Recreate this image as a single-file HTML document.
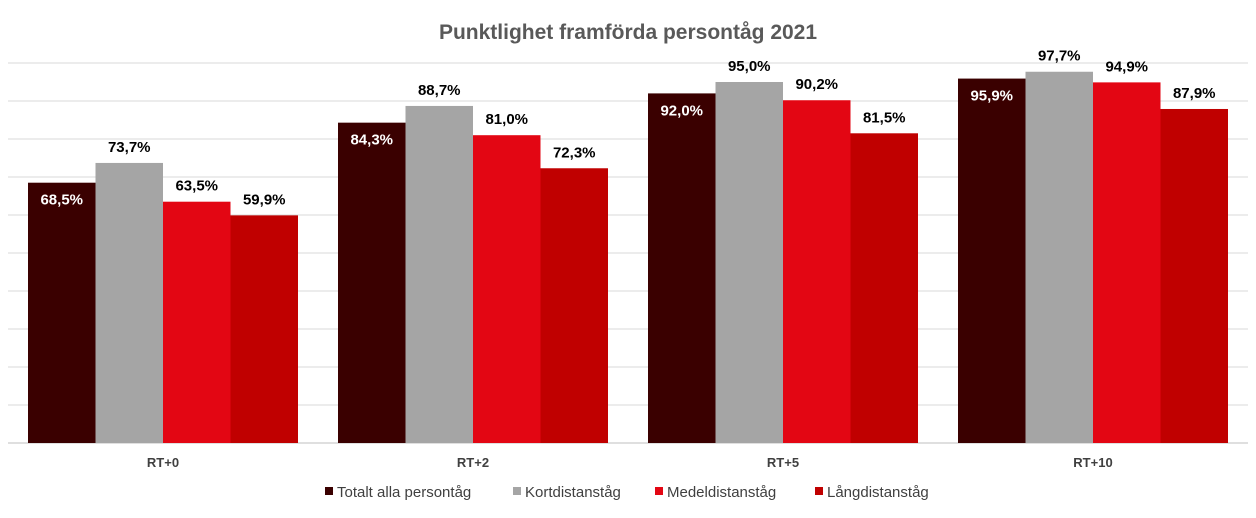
<!DOCTYPE html>
<html><head><meta charset="utf-8"><style>
body{margin:0;background:#fff;}
svg{display:block;font-family:"Liberation Sans",sans-serif;}
</style></head><body>
<svg id="chart" width="1256" height="518">
<text x="628" y="39" text-anchor="middle" font-size="21" font-weight="bold" fill="#595959">Punktlighet framförda persontåg 2021</text>
<g id="grid"></g>
<g id="bars"></g>
<g id="cats"></g>
<g id="legend"></g>
</svg>
<script>
const categories = ["RT+0","RT+2","RT+5","RT+10"];
const seriesNames = ["Totalt alla persontåg","Kortdistanståg","Medeldistanståg","Långdistanståg"];
const totalt = [68.5,84.3,92.0,95.9];
const kort = [73.7,88.7,95.0,97.7];
const medel = [63.5,81.0,90.2,94.9];
const lang = [59.9,72.3,81.5,87.9];
const yTicks = [0,10,20,30,40,50,60,70,80,90,100];
const series=[totalt,kort,medel,lang];
const colors=["#3a0000","#a5a5a5","#e30613","#c00000"];
const NS="http://www.w3.org/2000/svg";
const x0=8,x1=1248,yBase=443,yTop=63;
const y=v=>yBase-(v/100)*(yBase-yTop);
const groupW=(x1-x0)/categories.length, barW=67.5, gap=groupW-barW*4;
function mk(tag,attrs,parent){const e=document.createElementNS(NS,tag);for(const k in attrs)e.setAttribute(k,attrs[k]);parent.appendChild(e);return e;}
const grid=document.getElementById('grid');
yTicks.forEach(t=>{
 const l=mk('line',{x1:x0,x2:x1,y1:y(t),y2:y(t),stroke:t===0?'#bfbfbf':'#d9d9d9','stroke-width':1},grid);
 
 
});
const bars=document.getElementById('bars');
categories.forEach((c,i)=>{
 const gx=x0+i*groupW+gap/2;
 series.forEach((s,j)=>{
  const v=s[i];const bx=gx+j*barW;
  const r=mk('rect',{x:bx,y:y(v),width:barW,height:yBase-y(v),fill:colors[j]},bars);
  
  
  const inside=j===0;
  const t=mk('text',{x:bx+barW/2,y:inside?y(v)+22:y(v)-11,'text-anchor':'middle','font-size':15,'font-weight':'bold',fill:inside?'#fff':'#000'},bars);
  t.textContent=v.toFixed(1).replace('.',',')+'%';
  
  
 });
 const ct=mk('text',{x:x0+i*groupW+groupW/2,y:467,'text-anchor':'middle','font-size':13,'font-weight':'bold',fill:'#404040'},document.getElementById('cats'));
 ct.textContent=c;
 
 
});
const leg=document.getElementById('legend');
const lx=[325,513,655,815];
seriesNames.forEach((n,j)=>{
 const g=mk('g',{},leg);
 
 
 mk('rect',{x:lx[j],y:487,width:8,height:8,fill:colors[j]},g);
 const t=mk('text',{x:lx[j]+12,y:497,'font-size':15,fill:'#404040'},g);
 t.textContent=n;
});
</script>
</body></html>
